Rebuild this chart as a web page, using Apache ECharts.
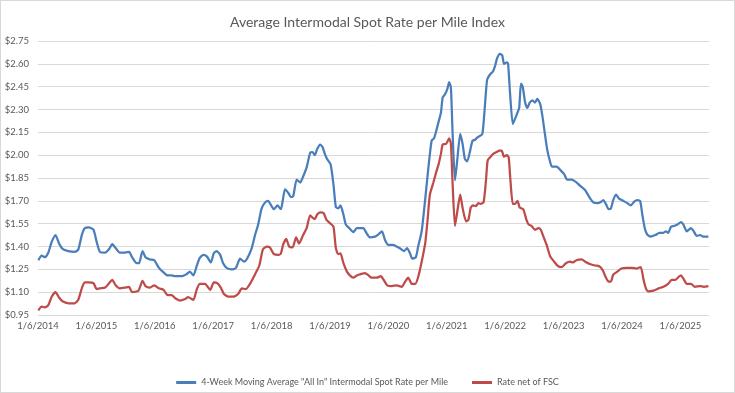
<!DOCTYPE html>
<html>
<head>
<meta charset="utf-8">
<script src="https://cdn.jsdelivr.net/npm/echarts@6/dist/echarts.min.js"></script>
<style>
  html, body { margin: 0; padding: 0; background: #fff; }
  #chart { width: 735px; height: 393px; box-sizing: border-box; border: 1px solid #d9d9d9; }
</style>
</head>
<body>
<div id="chart"></div>
<script>
// x values: years elapsed since 1/6/2014
const tickLabels = ['1/6/2014','1/6/2015','1/6/2016','1/6/2017','1/6/2018','1/6/2019','1/6/2020','1/6/2021','1/6/2022','1/6/2023','1/6/2024','1/6/2025'];
const yTicks = [0.95, 1.10, 1.25, 1.40, 1.55, 1.70, 1.85, 2.00, 2.15, 2.30, 2.45, 2.60, 2.75];

const allInX = [0.006,0.063,0.12,0.177,0.234,0.30,0.36,0.42,0.52,0.63,0.69,0.75,0.80,0.87,0.95,1.005,1.06,1.15,1.22,1.27,1.33,1.40,1.49,1.56,1.61,1.69,1.73,1.79,1.84,1.92,1.99,2.07,2.15,2.22,2.29,2.35,2.46,2.55,2.60,2.66,2.72,2.77,2.83,2.89,2.96,3.01,3.06,3.12,3.17,3.23,3.32,3.39,3.46,3.53,3.58,3.66,3.72,3.77,3.83,3.89,3.94,4.00,4.04,4.10,4.16,4.19,4.23,4.29,4.33,4.37,4.43,4.49,4.54,4.60,4.66,4.70,4.74,4.78,4.83,4.87,4.91,4.95,5.01,5.06,5.10,5.14,5.18,5.23,5.27,5.33,5.40,5.46,5.51,5.57,5.63,5.68,5.77,5.83,5.89,5.94,6.00,6.08,6.14,6.21,6.27,6.32,6.37,6.41,6.47,6.51,6.57,6.63,6.68,6.74,6.78,6.82,6.85,6.90,6.93,6.97,7.01,7.04,7.07,7.10,7.14,7.18,7.23,7.27,7.31,7.35,7.40,7.44,7.48,7.52,7.56,7.61,7.65,7.69,7.74,7.79,7.83,7.86,7.91,7.95,7.98,8.03,8.05,8.08,8.13,8.17,8.21,8.24,8.27,8.30,8.34,8.38,8.42,8.47,8.51,8.55,8.60,8.64,8.68,8.72,8.77,8.80,8.88,8.95,9.01,9.06,9.14,9.21,9.28,9.37,9.44,9.51,9.58,9.63,9.68,9.73,9.77,9.81,9.85,9.90,9.95,10.02,10.09,10.15,10.21,10.26,10.31,10.35,10.39,10.43,10.49,10.57,10.64,10.71,10.75,10.79,10.84,10.89,10.95,11.01,11.05,11.11,11.18,11.22,11.28,11.34,11.39,11.48];
const allInY = [1.31,1.34,1.33,1.36,1.43,1.475,1.42,1.385,1.37,1.365,1.38,1.475,1.52,1.525,1.51,1.43,1.365,1.36,1.385,1.415,1.39,1.36,1.36,1.365,1.33,1.29,1.29,1.37,1.33,1.315,1.31,1.26,1.23,1.21,1.21,1.205,1.205,1.22,1.235,1.21,1.275,1.325,1.345,1.335,1.295,1.355,1.37,1.345,1.29,1.26,1.25,1.26,1.32,1.30,1.32,1.39,1.48,1.545,1.65,1.69,1.70,1.665,1.645,1.67,1.645,1.70,1.775,1.75,1.725,1.73,1.84,1.82,1.86,1.92,2.015,2.02,2.00,2.04,2.07,2.055,2.01,1.975,1.94,1.805,1.66,1.65,1.67,1.61,1.545,1.52,1.495,1.52,1.52,1.52,1.485,1.46,1.465,1.48,1.50,1.445,1.41,1.41,1.40,1.385,1.37,1.39,1.355,1.32,1.33,1.40,1.50,1.71,1.90,2.095,2.11,2.16,2.205,2.28,2.38,2.40,2.435,2.48,2.445,2.14,1.835,1.97,2.14,2.075,1.975,1.96,2.03,2.095,2.10,2.115,2.125,2.14,2.31,2.495,2.53,2.55,2.59,2.635,2.665,2.655,2.60,2.61,2.60,2.425,2.205,2.24,2.28,2.31,2.47,2.45,2.35,2.31,2.345,2.36,2.345,2.37,2.335,2.25,2.14,2.035,1.955,1.925,1.925,1.90,1.875,1.84,1.84,1.825,1.80,1.77,1.725,1.69,1.685,1.69,1.705,1.675,1.645,1.65,1.705,1.74,1.715,1.70,1.685,1.67,1.695,1.705,1.70,1.605,1.52,1.48,1.465,1.475,1.49,1.49,1.50,1.49,1.53,1.535,1.545,1.56,1.545,1.50,1.52,1.505,1.47,1.475,1.465,1.465];

const netX = [0.006,0.063,0.12,0.177,0.234,0.30,0.36,0.42,0.52,0.63,0.69,0.75,0.80,0.87,0.95,1.005,1.06,1.15,1.22,1.27,1.33,1.40,1.49,1.56,1.61,1.72,1.79,1.84,1.92,1.99,2.07,2.15,2.22,2.29,2.35,2.43,2.52,2.57,2.66,2.72,2.77,2.86,2.95,3.01,3.07,3.13,3.18,3.26,3.34,3.43,3.49,3.56,3.63,3.72,3.79,3.85,3.92,3.97,4.04,4.12,4.16,4.20,4.25,4.30,4.36,4.42,4.47,4.54,4.60,4.66,4.70,4.74,4.78,4.83,4.89,4.94,5.01,5.06,5.10,5.14,5.18,5.23,5.29,5.34,5.40,5.46,5.54,5.60,5.66,5.71,5.80,5.87,5.92,5.98,6.06,6.14,6.23,6.28,6.34,6.40,6.46,6.51,6.57,6.63,6.67,6.71,6.77,6.82,6.86,6.90,6.93,6.99,7.04,7.07,7.10,7.14,7.18,7.23,7.27,7.33,7.37,7.41,7.45,7.50,7.54,7.58,7.63,7.67,7.70,7.75,7.80,7.85,7.90,7.94,7.98,8.03,8.06,8.09,8.13,8.17,8.21,8.25,8.31,8.36,8.40,8.45,8.51,8.57,8.61,8.65,8.71,8.77,8.84,8.91,8.97,9.04,9.11,9.16,9.22,9.31,9.37,9.45,9.54,9.61,9.67,9.72,9.77,9.81,9.85,9.92,9.99,10.08,10.17,10.25,10.32,10.37,10.41,10.45,10.54,10.63,10.71,10.79,10.85,10.91,10.97,11.01,11.05,11.11,11.18,11.25,11.34,11.40,11.48];
const netY = [0.98,1.005,1.00,1.015,1.07,1.10,1.065,1.04,1.027,1.027,1.05,1.125,1.165,1.165,1.16,1.12,1.125,1.13,1.16,1.18,1.145,1.125,1.13,1.135,1.10,1.11,1.175,1.14,1.13,1.145,1.125,1.115,1.08,1.08,1.06,1.045,1.055,1.067,1.05,1.12,1.155,1.155,1.115,1.165,1.16,1.13,1.09,1.07,1.07,1.09,1.125,1.12,1.155,1.22,1.275,1.38,1.40,1.395,1.35,1.345,1.355,1.415,1.45,1.40,1.395,1.46,1.42,1.475,1.52,1.605,1.59,1.58,1.61,1.625,1.62,1.575,1.55,1.53,1.39,1.35,1.355,1.29,1.235,1.21,1.195,1.21,1.22,1.225,1.21,1.195,1.195,1.205,1.18,1.145,1.14,1.145,1.135,1.165,1.195,1.155,1.155,1.20,1.30,1.42,1.57,1.74,1.82,1.89,1.94,2.01,2.07,2.075,2.11,2.075,1.81,1.535,1.63,1.74,1.655,1.565,1.575,1.655,1.67,1.665,1.685,1.68,1.69,1.83,1.965,1.99,2.01,2.02,2.03,2.03,1.99,2.00,1.985,1.835,1.68,1.68,1.70,1.655,1.645,1.58,1.545,1.535,1.51,1.52,1.51,1.47,1.41,1.335,1.30,1.27,1.265,1.29,1.30,1.295,1.31,1.315,1.30,1.285,1.275,1.27,1.245,1.20,1.17,1.17,1.215,1.235,1.255,1.26,1.26,1.255,1.265,1.18,1.125,1.105,1.11,1.125,1.135,1.155,1.18,1.18,1.20,1.21,1.19,1.155,1.155,1.135,1.14,1.135,1.14];

function pairs(xs, ys) { return xs.map((x, i) => [x, ys[i]]); }

const FONT = 'Lato, "Open Sans", sans-serif';
const chart = echarts.init(document.getElementById('chart'));
chart.setOption({
  animation: false,
  backgroundColor: '#ffffff',
  title: {
    text: 'Average Intermodal Spot Rate per Mile Index',
    left: 'center', top: 9,
    textStyle: { fontFamily: FONT, fontSize: 14, fontWeight: 'normal', color: '#595959' }
  },
  grid: { left: 37, right: 25, top: 40, bottom: 77 },
  legend: {
    left: 'center', top: 372,
    itemWidth: 20, itemHeight: 3, itemGap: 24,
    icon: 'rect',
    textStyle: { fontFamily: FONT, fontSize: 9, color: '#595959' },
    data: ['4-Week Moving Average "All In" Intermodal Spot Rate per Mile', 'Rate net of FSC']
  },
  xAxis: {
    type: 'value', min: 0, max: 11.49, interval: 1,
    axisLine: { show: false }, axisTick: { show: false }, splitLine: { show: false },
    axisLabel: {
      fontFamily: FONT, fontSize: 9.5, color: '#595959', margin: 6,
      showMaxLabel: false,
      formatter: v => (Math.abs(v - Math.round(v)) < 1e-6 && tickLabels[Math.round(v)]) ? tickLabels[Math.round(v)] : ''
    }
  },
  yAxis: {
    type: 'value', min: yTicks[0], max: yTicks[yTicks.length - 1], interval: 0.15,
    axisLine: { show: false }, axisTick: { show: false },
    splitLine: { lineStyle: { color: '#d9d9d9', width: 1 } },
    axisLabel: {
      fontFamily: FONT, fontSize: 9.5, color: '#595959', margin: 9,
      formatter: v => '$' + v.toFixed(2)
    }
  },
  series: [
    {
      name: '4-Week Moving Average "All In" Intermodal Spot Rate per Mile',
      type: 'line', data: pairs(allInX, allInY), showSymbol: false, smooth: 0.2,
      lineStyle: { color: '#4A7EBB', width: 2.25 }, itemStyle: { color: '#4A7EBB' }
    },
    {
      name: 'Rate net of FSC',
      type: 'line', data: pairs(netX, netY), showSymbol: false, smooth: 0.2,
      lineStyle: { color: '#BE4B48', width: 2.25 }, itemStyle: { color: '#BE4B48' }
    }
  ]
});
</script>
</body>
</html>
